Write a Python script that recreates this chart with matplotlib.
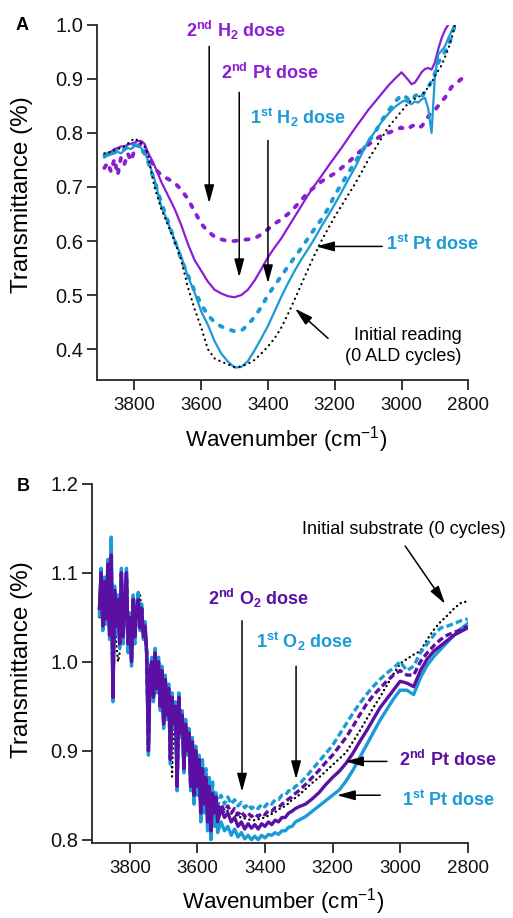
import numpy as np
import matplotlib
matplotlib.use('Agg')
import matplotlib.pyplot as plt

plt.rcParams.update({
    'font.family': ['Liberation Sans', 'DejaVu Sans'],
    'mathtext.fontset': 'custom',
    'mathtext.rm': 'Liberation Sans',
    'mathtext.bf': 'Liberation Sans:bold',
    'mathtext.it': 'Liberation Sans:italic',
    'mathtext.default': 'regular',
})

# ---------------- Panel A data ----------------
wn_a = np.concatenate([np.arange(3890, 3755, -10), np.arange(3740, 3005, -20), np.arange(3000, 2795, -10)])
nan = np.nan
a_initial = [0.762, 0.765, 0.764, 0.768, 0.77, 0.772, 0.775, 0.78, 0.785, 0.79, 0.786, 0.782, 0.775, 0.76,
             0.70, 0.66, 0.63, 0.60, 0.565, 0.515, 0.475, 0.44, 0.40, 0.383, 0.377, 0.372, 0.367, 0.368, 0.373,
             0.38, 0.392, 0.405, 0.42, 0.44, 0.465, 0.492, 0.52, 0.548, 0.575, 0.60, 0.623, 0.645, 0.665, 0.685,
             0.705, 0.727, 0.75, 0.77, 0.79, 0.81, 0.825,
             0.84, 0.847, 0.855, 0.86, 0.863, 0.866, 0.87, 0.876, 0.885, 0.893, 0.905, 0.915, 0.925, 0.94, 0.955,
             0.975, 1.0, nan, nan, nan, nan]
a_pt1 = [0.755, 0.758, 0.76, 0.762, 0.765, 0.762, 0.768, 0.772, 0.77, 0.775, 0.778, 0.772, 0.765, 0.75,
         0.715, 0.665, 0.635, 0.603, 0.572, 0.535, 0.505, 0.47, 0.445, 0.415, 0.392, 0.377, 0.366, 0.367, 0.378,
         0.398, 0.42, 0.443, 0.47, 0.497, 0.522, 0.545, 0.566, 0.585, 0.605, 0.627, 0.647, 0.668, 0.69, 0.713,
         0.735, 0.76, 0.785, 0.802, 0.82, 0.835, 0.848,
         0.857, 0.86, 0.856, 0.853, 0.858, 0.856, 0.862, 0.865, 0.845, 0.80, 0.905, 0.945, 0.952, 0.96, 0.975,
         0.988, 1.0, nan, nan, nan, nan]
a_h2_1 = [0.758, 0.762, 0.758, 0.765, 0.768, 0.765, 0.77, 0.775, 0.772, 0.778, 0.776, 0.77, 0.762, 0.748,
          0.712, 0.672, 0.637, 0.602, 0.567, 0.537, 0.508, 0.483, 0.463, 0.45, 0.442, 0.437, 0.433, 0.434, 0.445,
          0.46, 0.478, 0.50, 0.518, 0.535, 0.553, 0.57, 0.587, 0.605, 0.623, 0.64, 0.66, 0.685, 0.705, 0.725,
          0.745, 0.765, 0.783, 0.80, 0.822, 0.84, 0.857,
          0.87, 0.868, 0.862, 0.858, 0.868, 0.872, 0.866, 0.876, 0.885, 0.895, 0.91, 0.93, 0.94, 0.95, 0.96,
          0.978, 1.0, nan, nan, nan, nan]
a_pt2 = [0.755, 0.76, 0.765, 0.77, 0.772, 0.775, 0.775, 0.778, 0.78, 0.782, 0.785, 0.785, 0.78, 0.765,
         0.74, 0.71, 0.685, 0.66, 0.63, 0.595, 0.565, 0.545, 0.525, 0.51, 0.503, 0.498, 0.496, 0.50, 0.51,
         0.527, 0.548, 0.57, 0.588, 0.605, 0.625, 0.645, 0.665, 0.685, 0.703, 0.72, 0.738, 0.755, 0.772, 0.79,
         0.808, 0.825, 0.842, 0.857, 0.872, 0.887, 0.90,
         0.912, 0.905, 0.898, 0.89, 0.893, 0.902, 0.912, 0.918, 0.92, 0.917, 0.93, 0.955, 0.975, 0.99, 1.0,
         nan, nan, nan, nan, nan, nan]
a_h2_2 = [0.735, 0.745, 0.728, 0.752, 0.722, 0.755, 0.742, 0.762, 0.748, 0.768, 0.775, 0.78, 0.775, 0.76,
          0.735, 0.722, 0.715, 0.708, 0.695, 0.678, 0.655, 0.632, 0.618, 0.608, 0.603, 0.60, 0.60, 0.602, 0.603,
          0.605, 0.612, 0.622, 0.632, 0.64, 0.65, 0.662, 0.676, 0.69, 0.70, 0.71, 0.718, 0.725, 0.735, 0.745,
          0.757, 0.768, 0.778, 0.787, 0.795, 0.80, 0.805,
          0.81, 0.806, 0.808, 0.812, 0.815, 0.81, 0.812, 0.82, 0.83, 0.838, 0.842, 0.85, 0.858, 0.865, 0.875,
          0.885, 0.89, 0.895, 0.90, 0.905, 0.907]

# ---------------- Panel B data ----------------
wn_b = np.concatenate([np.arange(3890, 3535, -5), np.arange(3530, 3295, -10), np.arange(3280, 2795, -20)])
b_initial = [1.05, 1.09, 1.04, 1.08, 1.05, 1.10, 1.03, 1.10, 0.99, 1.06, 1.02, 1.0, 1.01, 1.08, 1.03, 1.05,
             1.09, 1.02, 1.04, 1.01, 1.06, 1.04, 1.06, 1.078, 1.075, 1.06, 1.04, 1.045, 1.02, 0.90, 1.0, 1.0,
             0.97, 1.01, 0.99, 1.005, 0.975, 0.995, 0.96, 0.98, 0.955, 0.97, 0.94, 0.871, 0.94, 0.95, 0.91, 0.945,
             0.92, 0.93, 0.895, 0.92, 0.90, 0.91, 0.88, 0.90, 0.87, 0.89, 0.87, 0.88, 0.855, 0.87, 0.855, 0.86,
             0.845, 0.855, 0.84, 0.85, 0.843, 0.845, 0.838,
             0.836, 0.834, 0.832, 0.83, 0.828, 0.826, 0.825, 0.824, 0.823, 0.822, 0.822, 0.823, 0.824, 0.825,
             0.827, 0.829, 0.831, 0.834, 0.836, 0.838, 0.841, 0.845, 0.847, 0.85,
             0.857, 0.864, 0.87, 0.877, 0.884, 0.891, 0.898, 0.91, 0.922, 0.935, 0.948, 0.96, 0.973, 0.986, 0.998,
             1.003, 1.008, 1.012, 1.025, 1.036, 1.045, 1.052, 1.06, 1.066, 1.068]
b_pt1 = [1.055, 1.105, 1.035, 1.095, 1.045, 1.115, 1.025, 1.14, 0.955, 1.085, 1.035, 1.075, 1.015, 1.105, 1.025,
         1.065, 1.105, 1.01, 1.055, 0.995, 1.075, 1.025, 1.065, 1.078, 1.035, 1.065, 1.025, 1.045, 1.005, 0.895,
         0.985, 1.005, 0.955, 1.015, 0.965, 1.005, 0.945, 0.995, 0.925, 0.985, 0.935, 0.975, 0.885, 0.965, 0.925,
         0.955, 0.855, 0.965, 0.915, 0.945, 0.875, 0.935, 0.895, 0.925, 0.855, 0.915, 0.84, 0.905, 0.85, 0.895,
         0.82, 0.885, 0.83, 0.875, 0.81, 0.865, 0.80, 0.855, 0.815, 0.835, 0.808,
         0.82, 0.81, 0.815, 0.805, 0.812, 0.803, 0.808, 0.801, 0.805, 0.80, 0.804, 0.80, 0.805, 0.802, 0.806,
         0.805, 0.808, 0.806, 0.81, 0.81, 0.814, 0.815, 0.82, 0.822,
         0.826, 0.832, 0.838, 0.844, 0.85, 0.856, 0.866, 0.878, 0.892, 0.906, 0.92, 0.934, 0.946, 0.958, 0.968,
         0.968, 0.963, 0.982, 0.996, 1.006, 1.014, 1.022, 1.03, 1.037, 1.043]
b_o2_1 = [1.05, 1.10, 1.04, 1.09, 1.04, 1.11, 1.03, 1.135, 0.96, 1.08, 1.03, 1.07, 1.02, 1.10, 1.02, 1.06,
          1.10, 1.015, 1.05, 1.0, 1.07, 1.02, 1.06, 1.075, 1.04, 1.06, 1.03, 1.04, 1.01, 0.90, 0.99, 1.0, 0.96,
          1.01, 0.97, 1.0, 0.95, 0.99, 0.93, 0.98, 0.94, 0.97, 0.89, 0.96, 0.93, 0.955, 0.86, 0.96, 0.92, 0.945,
          0.88, 0.935, 0.90, 0.925, 0.865, 0.915, 0.855, 0.905, 0.865, 0.895, 0.84, 0.89, 0.85, 0.88, 0.835,
          0.87, 0.83, 0.865, 0.84, 0.855, 0.838,
          0.85, 0.84, 0.848, 0.84, 0.845, 0.838, 0.842, 0.836, 0.84, 0.835, 0.838, 0.835, 0.84, 0.837, 0.842,
          0.84, 0.845, 0.845, 0.85, 0.85, 0.855, 0.855, 0.86, 0.862,
          0.87, 0.879, 0.888, 0.897, 0.906, 0.918, 0.93, 0.942, 0.953, 0.963, 0.972, 0.98, 0.987, 0.993, 1.0,
          0.99, 0.995, 1.01, 1.02, 1.03, 1.038, 1.04, 1.043, 1.046, 1.048]
b_pt2 = [1.06, 1.10, 1.04, 1.09, 1.05, 1.11, 1.03, 1.12, 0.96, 1.08, 1.04, 1.07, 1.02, 1.10, 1.03, 1.06, 1.10,
         1.02, 1.05, 1.00, 1.07, 1.03, 1.06, 1.07, 1.04, 1.06, 1.03, 1.04, 1.01, 0.90, 0.99, 1.00, 0.96, 1.01,
         0.97, 1.00, 0.95, 0.99, 0.93, 0.98, 0.94, 0.97, 0.89, 0.96, 0.93, 0.95, 0.86, 0.96, 0.92, 0.94, 0.88,
         0.93, 0.90, 0.92, 0.86, 0.91, 0.85, 0.90, 0.86, 0.89, 0.83, 0.88, 0.84, 0.87, 0.82, 0.86, 0.81, 0.85,
         0.83, 0.845, 0.82,
         0.835, 0.825, 0.83, 0.82, 0.825, 0.815, 0.82, 0.812, 0.818, 0.813, 0.817, 0.812, 0.818, 0.815, 0.82,
         0.817, 0.822, 0.82, 0.825, 0.825, 0.83, 0.832, 0.835, 0.837,
         0.84, 0.846, 0.853, 0.862, 0.87, 0.877, 0.886, 0.897, 0.91, 0.922, 0.935, 0.948, 0.958, 0.968, 0.978,
         0.976, 0.972, 0.99, 1.003, 1.012, 1.018, 1.024, 1.03, 1.034, 1.038]
b_o2_2 = [1.058, 1.098, 1.042, 1.088, 1.048, 1.105, 1.032, 1.118, 0.965, 1.078, 1.038, 1.068, 1.022, 1.098,
          1.028, 1.058, 1.098, 1.022, 1.048, 1.002, 1.068, 1.028, 1.058, 1.068, 1.038, 1.058, 1.028, 1.038,
          1.008, 0.905, 0.988, 0.998, 0.962, 1.008, 0.968, 0.998, 0.952, 0.988, 0.932, 0.978, 0.942, 0.968,
          0.892, 0.958, 0.932, 0.948, 0.862, 0.958, 0.922, 0.938, 0.882, 0.928, 0.902, 0.918, 0.862, 0.908,
          0.855, 0.898, 0.862, 0.888, 0.835, 0.878, 0.845, 0.868, 0.83, 0.858, 0.825, 0.852, 0.835, 0.848, 0.83,
          0.84, 0.832, 0.838, 0.83, 0.835, 0.828, 0.832, 0.826, 0.83, 0.826, 0.829, 0.826, 0.83, 0.828, 0.833,
          0.832, 0.836, 0.836, 0.84, 0.842, 0.846, 0.848, 0.852, 0.855,
          0.862, 0.87, 0.878, 0.887, 0.895, 0.905, 0.915, 0.927, 0.94, 0.952, 0.962, 0.97, 0.978, 0.985, 0.99,
          0.985, 0.985, 1.0, 1.01, 1.018, 1.025, 1.03, 1.033, 1.036, 1.04]

xticks = [3800, 3600, 3400, 3200, 3000, 2800]
yticks_a = [0.4, 0.5, 0.6, 0.7, 0.8, 0.9, 1.0]
yticks_b = [0.8, 0.9, 1.0, 1.1, 1.2]

PURPLE_A = '#8a1ed6'
PURPLE_B = '#5c0fa3'
BLUE = '#1a9bd7'
AXC = '#262626'

W, H = 513, 918
fig = plt.figure(figsize=(W / 100, H / 100), dpi=100)


def axes_px(l, r, t, b):
    return fig.add_axes([l / W, 1 - b / H, (r - l) / W, (b - t) / H])


def style(ax, yticks, ylim):
    for s in ['top', 'right']:
        ax.spines[s].set_visible(False)
    for s in ['left', 'bottom']:
        ax.spines[s].set_linewidth(1.3)
        ax.spines[s].set_color(AXC)
    ax.tick_params(direction='out', length=7, width=1.3, colors='#111111', color=AXC)
    ax.tick_params(axis='x', pad=5, labelsize=13.5)
    ax.tick_params(axis='y', pad=3, labelsize=14.5)
    ax.set_xlim(3912, 2800)
    ax.set_ylim(*ylim)
    ax.set_xticks(xticks)
    ax.set_yticks(yticks)
    ax.set_yticklabels(['%.1f' % v for v in yticks])


def arrow(ax, start, tip):
    ax.annotate('', xy=tip, xytext=start,
                arrowprops=dict(arrowstyle='-|>,head_length=0.55,head_width=0.15', lw=1.1,
                                color='black', shrinkA=0, shrinkB=0, mutation_scale=20))


# ---------------- Panel A ----------------
axA = axes_px(97, 468.3, 24.7, 380)
style(axA, yticks_a, (0.343, 1.0))
dash_kw = dict(dash_capstyle='round')
axA.plot(wn_a, a_h2_2, color=PURPLE_A, lw=2.8, ls=(0, (0.8, 2.3)), **dash_kw)
axA.plot(wn_a, a_pt2, color=PURPLE_A, lw=1.6)
axA.plot(wn_a, a_h2_1, color=BLUE, lw=2.8, ls=(0, (0.8, 2.3)), **dash_kw)
axA.plot(wn_a, a_pt1, color=BLUE, lw=1.6)
axA.plot(wn_a, a_initial, color='black', lw=1.6, ls=(0, (0.1, 2.3)), **dash_kw)

bold = dict(fontsize=13, fontweight='bold', ha='center', va='baseline')
axA.text(3497, 0.978, r'2$^{\mathbf{nd}}$ H$_{\mathbf{2}}$ dose', color=PURPLE_A, **bold)
axA.text(3395, 0.899, r'2$^{\mathbf{nd}}$ Pt dose', color=PURPLE_A, **bold)
axA.text(3311, 0.816, r'1$^{\mathbf{st}}$ H$_{\mathbf{2}}$ dose', color=BLUE, **bold)
axA.text(2907, 0.583, r'1$^{\mathbf{st}}$ Pt dose', color=BLUE, **bold)
axA.text(2820, 0.4174, 'Initial reading', fontsize=13, ha='right', va='baseline')
axA.text(2820, 0.379, '(0 ALD cycles)', fontsize=13, ha='right', va='baseline')
arrow(axA, (3576, 0.96), (3576, 0.67))
arrow(axA, (3486, 0.875), (3486, 0.533))
arrow(axA, (3400, 0.786), (3400, 0.522))
arrow(axA, (3058, 0.59), (3256, 0.59))
arrow(axA, (3220, 0.42), (3319, 0.475))

# ---------------- Panel B ----------------
axB = axes_px(92, 467.7, 483.7, 843.3)
style(axB, yticks_b, (0.796, 1.2))
axB.plot(wn_b, b_initial, color='black', lw=1.7, ls=(0, (0.1, 1.9)), **dash_kw)
axB.plot(wn_b, b_pt1, color=BLUE, lw=2.4)
axB.plot(wn_b, b_o2_1, color=BLUE, lw=2.4, ls=(0, (2.0, 1.0)))
axB.plot(wn_b, b_o2_2, color=PURPLE_B, lw=2.4, ls=(0, (2.0, 1.0)))
axB.plot(wn_b, b_pt2, color=PURPLE_B, lw=2.4)

axB.text(2988, 1.144, 'Initial substrate (0 cycles)', fontsize=13, ha='center', va='baseline')
axB.text(3419, 1.064, r'2$^{\mathbf{nd}}$ O$_{\mathbf{2}}$ dose', color=PURPLE_B, **bold)
axB.text(3284, 1.015, r'1$^{\mathbf{st}}$ O$_{\mathbf{2}}$ dose', color=BLUE, **bold)
axB.text(2858, 0.883, r'2$^{\mathbf{nd}}$ Pt dose', color=PURPLE_B, **bold)
axB.text(2856, 0.838, r'1$^{\mathbf{st}}$ Pt dose', color=BLUE, **bold)
arrow(axB, (2985, 1.130), (2867, 1.065))
arrow(axB, (3468, 1.046), (3468, 0.854))
arrow(axB, (3308, 0.995), (3308, 0.868))
arrow(axB, (3039, 0.888), (3163, 0.888))
arrow(axB, (3059, 0.85), (3187, 0.85))

# ---------------- labels ----------------
fig.text(22 / W, 1 - 26 / H, 'A', fontsize=13, fontweight='bold', ha='center', va='center')
fig.text(23 / W, 1 - 487 / H, 'B', fontsize=13, fontweight='bold', ha='center', va='center')
fig.text(22 / W, 1 - 195 / H, 'Transmittance (%)', fontsize=17.5, rotation=90, ha='center', va='center')
fig.text(22 / W, 1 - 660 / H, 'Transmittance (%)', fontsize=17.5, rotation=90, ha='center', va='center')
fig.text(286 / W, 1 - 440 / H, r'Wavenumber (cm$^{-1}$)', fontsize=16, ha='center', va='center')
fig.text(283 / W, 1 - 902 / H, r'Wavenumber (cm$^{-1}$)', fontsize=16, ha='center', va='center')

fig.savefig('out.png', dpi=100)
